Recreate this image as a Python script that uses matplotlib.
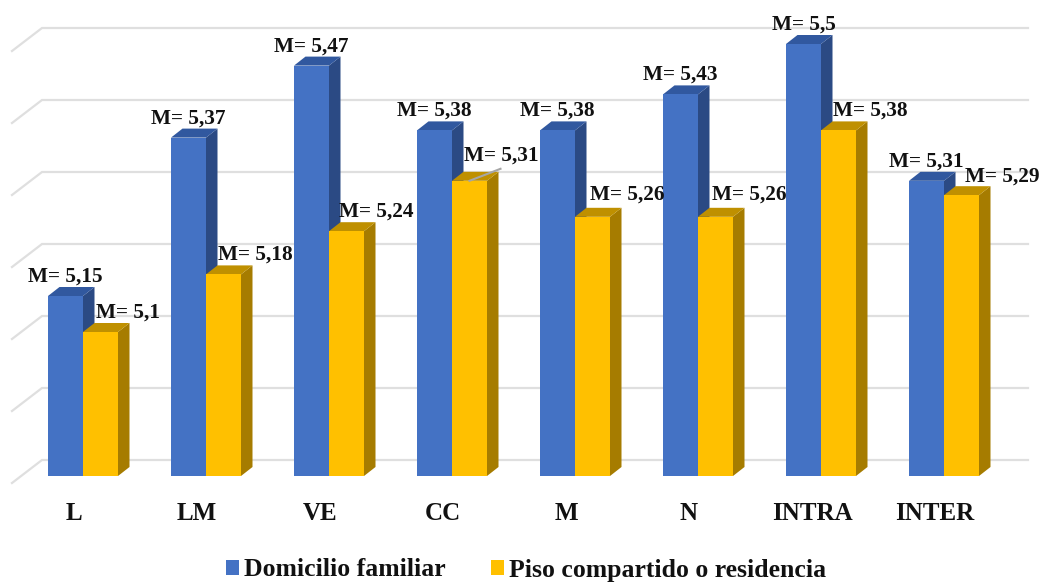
import matplotlib
matplotlib.use("Agg")
import matplotlib.pyplot as plt
from matplotlib.patches import Patch, Polygon

plt.rcParams['font.family'] = ['Liberation Serif', 'DejaVu Serif']

categories = ["L", "LM", "VE", "CC", "M", "N", "INTRA", "INTER"]
domicilio = [5.15, 5.37, 5.47, 5.38, 5.38, 5.43, 5.50, 5.31]
piso = [5.10, 5.18, 5.24, 5.31, 5.26, 5.26, 5.38, 5.29]
series_names = ["Domicilio familiar", "Piso compartido o residencia"]
grid_values = [4.9, 5.0, 5.1, 5.2, 5.3, 5.4, 5.5]

# Pixel scale of the axes: one category step and one value unit
PX_X = 123.0
PX_Y = 720.0
W, H = 1040, 582
BASE_PX = 476
ORIGIN_PX = 74

BAR_W = 35 / PX_X
SHIFT = 9 / PX_X
DX = 11.5 / PX_X
DY = 9 / PX_Y

fig = plt.figure(figsize=(W / 100, H / 100), dpi=100, facecolor="white")
ax = fig.add_axes([0, (H - BASE_PX) / H, 1, BASE_PX / H])
ax.set_xlim(-ORIGIN_PX / PX_X, (W - ORIGIN_PX) / PX_X)
ax.set_ylim(4.9, 4.9 + BASE_PX / PX_Y)
for s in ax.spines.values():
    s.set_visible(False)
ax.yaxis.set_visible(False)
ax.set_xticks(range(len(categories)))
ax.set_xticklabels(categories, fontsize=18, fontweight="bold", color="#111111")
ax.tick_params(axis="x", length=0, pad=19)


def to_x(px):
    return (px - ORIGIN_PX) / PX_X


# Back wall gridlines with their slanted floor edge on the left
for g in grid_values:
    y_back = g + 16 / PX_Y
    y_front = g - 7 / PX_Y
    ax.plot([to_x(12), to_x(42), to_x(1028)], [y_front, y_back, y_back],
            color="#DFDFDF", lw=1.6, clip_on=False, zorder=1,
            solid_joinstyle="miter")


def bar3d(x_left, value, front, side, top, z):
    x_right = x_left + BAR_W
    ax.bar(x_left, value - 4.9, width=BAR_W, bottom=4.9, align="edge",
           color=front, edgecolor="none", zorder=z + 0.2)
    ax.add_patch(Polygon([(x_right, 4.9), (x_right + DX, 4.9 + DY),
                          (x_right + DX, value + DY), (x_right, value)],
                         closed=True, facecolor=side, edgecolor="none", zorder=z))
    ax.add_patch(Polygon([(x_left, value), (x_left + DX, value + DY),
                          (x_right + DX, value + DY), (x_right, value)],
                         closed=True, facecolor=top, edgecolor="none", zorder=z))


label_style = dict(ha="center", va="center", fontsize=15.3, fontweight="bold",
                   color="#111111", textcoords="offset pixels", zorder=10,
                   annotation_clip=False)

# Horizontal label nudges (pixels) for the second series, plus the rise above the bar
piso_dx = [27, 31.5, 29.5, 31.5, 34.5, 33.5, 31.5, 41]
piso_rise = [19, 20, 20, 25, 22, 22, 20, 19]

for i in range(len(categories)):
    x_blue = i + SHIFT - BAR_W
    x_yellow = i + SHIFT
    bar3d(x_blue, domicilio[i], "#4472C4", "#2B4A84", "#31589F", 2 + i * 0.01)
    bar3d(x_yellow, piso[i], "#FFC000", "#A67C00", "#BF9000", 3 + i * 0.01)

    ax.annotate(f"M= {domicilio[i]:.2f}".rstrip("0").replace(".", ","),
                xy=(x_blue + BAR_W / 2, domicilio[i]), xytext=(0, 19.5), **label_style)
    ax.annotate(f"M= {piso[i]:.2f}".rstrip("0").replace(".", ","),
                xy=(x_yellow + BAR_W / 2, piso[i]),
                xytext=(piso_dx[i], piso_rise[i]), **label_style)

# Leader line joining the CC label to its bar
cc = categories.index("CC")
ax.plot([cc + SHIFT + 0.5 * BAR_W, cc + SHIFT + 0.5 * BAR_W + 31 / PX_X],
        [piso[cc], piso[cc] + 12 / PX_Y], color="#A6A6A6", lw=1.5, zorder=9)

handles = [Patch(facecolor="#4472C4", edgecolor="none"),
           Patch(facecolor="#FFC000", edgecolor="none")]
fig.legend(handles, series_names, loc="center", bbox_to_anchor=(526 / W, 1 - 570 / H),
           ncols=2, frameon=False, handlelength=0.5, handleheight=0.5,
           handletextpad=0.2, columnspacing=1.75, borderpad=0, borderaxespad=0,
           prop={"size": 18.5, "weight": "bold"}, labelcolor="#111111")

fig.savefig("out.png", dpi=100, facecolor="white")
